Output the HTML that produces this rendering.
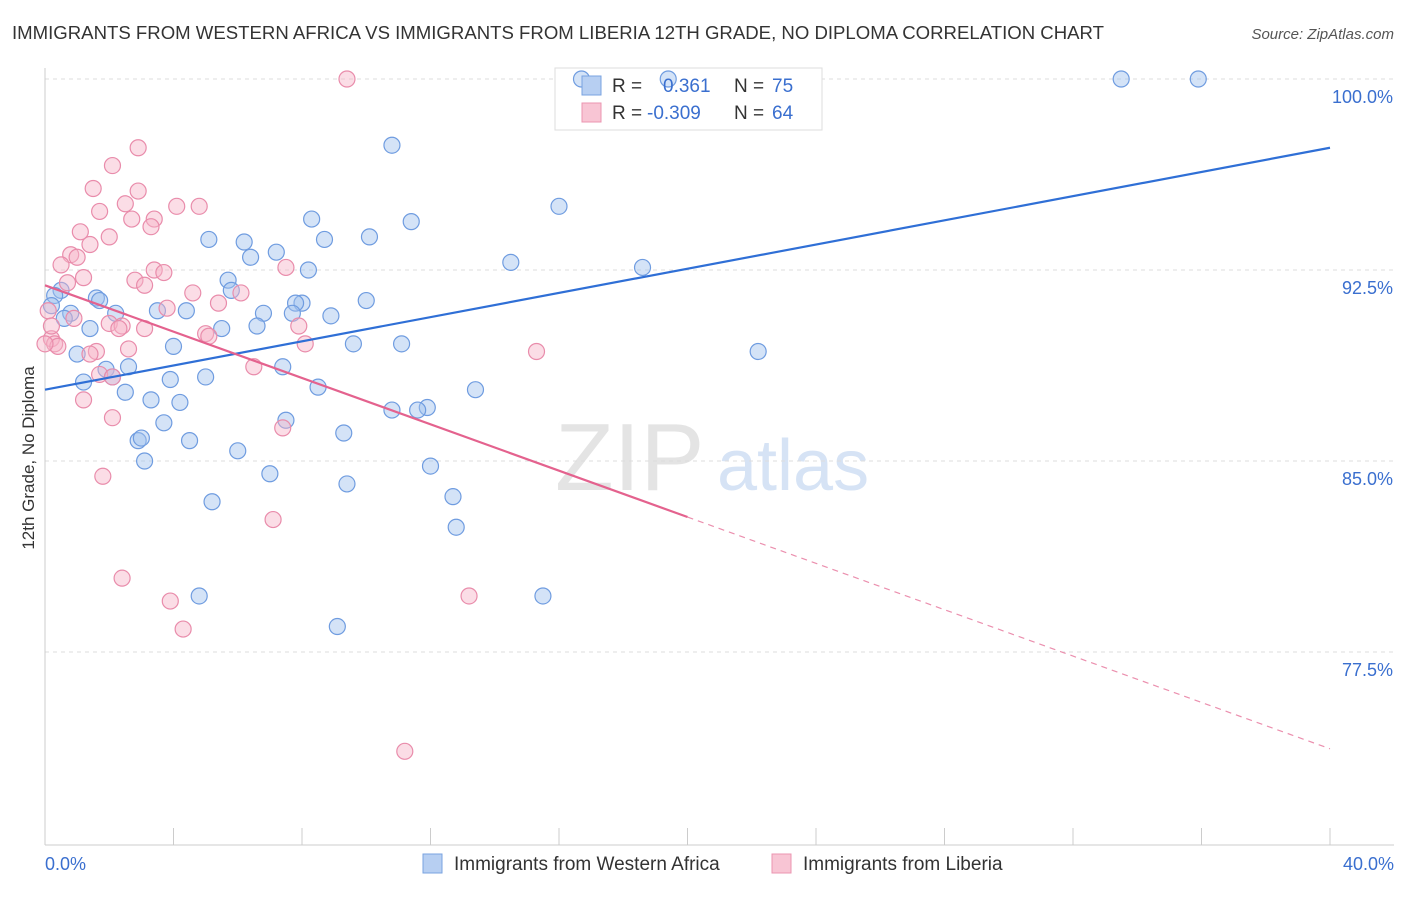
<!DOCTYPE html>
<html><head><meta charset="utf-8"><style>
body{margin:0;background:#fff;font-family:"Liberation Sans",sans-serif;}
svg text{font-family:"Liberation Sans",sans-serif;}
</style></head><body>
<svg id="chart" width="1406" height="892" viewBox="0 0 1406 892" xmlns="http://www.w3.org/2000/svg">
<text x="12" y="39" font-size="18" fill="#333" textLength="1092" lengthAdjust="spacingAndGlyphs">IMMIGRANTS FROM WESTERN AFRICA VS IMMIGRANTS FROM LIBERIA 12TH GRADE, NO DIPLOMA CORRELATION CHART</text>
<text x="1394" y="39" font-size="15" fill="#555" text-anchor="end" font-style="italic">Source: ZipAtlas.com</text>
<g>
<text x="555" y="490" font-size="96" fill="#e4e4e4" font-family="Liberation Serif">ZIP</text>
<text x="717" y="490" font-size="72" fill="#d6e3f5">atlas</text>
</g>
<g id="grid"></g>
<g id="axes"></g>
<g>
<rect x="555" y="68" width="267" height="62" fill="#fff" stroke="#ddd"/>
</g>
<g id="marks"></g>
<text transform="translate(34,458) rotate(-90)" font-size="17" fill="#333" text-anchor="middle">12th Grade, No Diploma</text>
<g>
<rect x="582" y="76" width="19" height="19" fill="#b7cff2" stroke="#7aa3e0"/>
<rect x="582" y="103" width="19" height="19" fill="#f8c5d4" stroke="#eb95b0"/>
<text x="612" y="92" font-size="19" fill="#333">R =</text>
<text x="663" y="92" font-size="19" fill="#3a6fcf">0.361</text>
<text x="734" y="92" font-size="19" fill="#333">N =</text>
<text x="772" y="92" font-size="19" fill="#3a6fcf">75</text>
<text x="612" y="119" font-size="19" fill="#333">R =</text>
<text x="647" y="119" font-size="19" fill="#3a6fcf">-0.309</text>
<text x="734" y="119" font-size="19" fill="#333">N =</text>
<text x="772" y="119" font-size="19" fill="#3a6fcf">64</text>
</g>
<g>
<rect x="423" y="854" width="19" height="19" fill="#b7cff2" stroke="#7aa3e0"/>
<text x="454" y="870" font-size="19" fill="#333">Immigrants from Western Africa</text>
<rect x="772" y="854" width="19" height="19" fill="#f8c5d4" stroke="#eb95b0"/>
<text x="803" y="870" font-size="19" fill="#333">Immigrants from Liberia</text>
</g>
</svg>
<script>
const yTicks=[100,92.5,85,77.5];
const yTickLabels=["100.0%","92.5%","85.0%","77.5%"];
const xTickLabels=["0.0%","40.0%"];
const blueX=[16.7,19.4,33.5,35.9,10.8,16.0,8.3,11.4,5.1,6.2,10.1,8.7,7.2,6.4,14.5,18.6,8.2,5.7,5.8,0.5,0.3,1.6,1.7,10.0,8.0,7.8,3.5,4.4,2.2,6.8,7.7,8.9,0.8,0.6,1.4,5.5,6.6,9.6,11.1,4.0,1.0,22.2,7.4,2.6,1.9,5.0,2.1,3.9,1.2,8.5,13.4,2.5,3.3,4.2,10.8,11.9,11.6,3.7,7.5,9.3,4.5,2.9,3.0,6.0,3.1,12.0,7.0,9.4,12.7,5.2,12.8,4.8,15.5,9.1,0.2];
const blueY=[100,100,100,100,97.4,95.0,94.5,94.4,93.7,93.6,93.8,93.7,93.2,93.0,92.8,92.6,92.5,92.1,91.7,91.7,91.5,91.4,91.3,91.3,91.2,91.2,90.9,90.9,90.8,90.8,90.8,90.7,90.8,90.6,90.2,90.2,90.3,89.6,89.6,89.5,89.2,89.3,88.7,88.7,88.6,88.3,88.3,88.2,88.1,87.9,87.8,87.7,87.4,87.3,87.0,87.1,87.0,86.5,86.6,86.1,85.8,85.8,85.9,85.4,85.0,84.8,84.5,84.1,83.6,83.4,82.4,79.7,79.7,78.5,91.1];
const pinkX=[9.4,2.9,2.1,1.5,2.9,2.5,1.7,3.4,2.7,4.1,4.8,3.3,1.1,2.0,1.4,0.8,1.0,0.5,7.5,3.4,3.7,1.2,2.8,0.7,3.1,6.1,4.6,5.4,3.8,0.1,0.9,2.0,2.4,2.3,3.1,7.9,5.0,5.1,0.2,0.3,0.4,8.1,2.6,1.6,1.4,15.3,6.5,1.7,2.1,1.2,2.1,7.4,1.8,7.1,2.4,3.9,13.2,4.3,11.2,0.0,0.2];
const pinkY=[100,97.3,96.6,95.7,95.6,95.1,94.8,94.5,94.5,95.0,95.0,94.2,94.0,93.8,93.5,93.1,93.0,92.7,92.6,92.5,92.4,92.2,92.1,92.0,91.9,91.6,91.6,91.2,91.0,90.9,90.6,90.4,90.3,90.2,90.2,90.3,90.0,89.9,89.8,89.6,89.5,89.6,89.4,89.3,89.2,89.3,88.7,88.4,88.3,87.4,86.7,86.3,84.4,82.7,80.4,79.5,79.7,78.4,73.6,89.6,90.3];
const blueLine=[[0,87.8],[40,97.3]];
const pinkSolid=[[0,91.9],[20,82.8]];
const pinkDash=[[20,82.8],[40,73.7]];
const NS="http://www.w3.org/2000/svg";
const X=v=>45+v/40*1285;
const Y=v=>79+(100-v)/7.5*191;
function mk(tag,attrs,parent){const e=document.createElementNS(NS,tag);for(const k in attrs)e.setAttribute(k,attrs[k]);document.getElementById(parent).appendChild(e);return e;}
yTicks.forEach((t,i)=>{
 const g=mk('line',{x1:45,x2:1394,y1:Y(t),y2:Y(t),stroke:'#ddd','stroke-dasharray':'4,4'},'grid');
 
 
 const l=mk('text',{x:1393,y:Y(t)+24,'font-size':18,fill:'#3a6fcf','text-anchor':'end'},'axes');
 l.textContent=yTickLabels[i];
 
 
});
const ax=mk('line',{x1:45,x2:45,y1:68,y2:845,stroke:'#ccc'},'axes');


const bx=mk('line',{x1:45,x2:1394,y1:845,y2:845,stroke:'#ccc'},'axes');


for(let i=0;i<=10;i++){const t=mk('line',{x1:X(i*4),x2:X(i*4),y1:828,y2:845,stroke:'#ccc'},'axes');
 
 }
[[0,'start',45],[1,'end',1394]].forEach(([i,a,x])=>{const t=mk('text',{x:x,y:870,'font-size':18,fill:'#3a6fcf','text-anchor':a},'axes');t.textContent=xTickLabels[i];
 
 });
blueX.forEach((x,i)=>{const c=mk('circle',{cx:X(x),cy:Y(blueY[i]),r:8,fill:'rgba(160,192,238,0.45)',stroke:'#6f9ce0','stroke-width':1.2},'marks');
 
 });
pinkX.forEach((x,i)=>{const c=mk('circle',{cx:X(x),cy:Y(pinkY[i]),r:8,fill:'rgba(246,180,200,0.45)',stroke:'#e98cab','stroke-width':1.2},'marks');
 
 });
const b=mk('line',{x1:X(blueLine[0][0]),y1:Y(blueLine[0][1]),x2:X(blueLine[1][0]),y2:Y(blueLine[1][1]),stroke:'#2f6fd6','stroke-width':2.2},'marks');


const p=mk('line',{x1:X(pinkSolid[0][0]),y1:Y(pinkSolid[0][1]),x2:X(pinkSolid[1][0]),y2:Y(pinkSolid[1][1]),stroke:'#e4628e','stroke-width':2.2},'marks');


const pd=mk('line',{x1:X(pinkDash[0][0]),y1:Y(pinkDash[0][1]),x2:X(pinkDash[1][0]),y2:Y(pinkDash[1][1]),stroke:'#eb8fae','stroke-width':1.2,'stroke-dasharray':'6,5'},'marks');


</script>
</body></html>
